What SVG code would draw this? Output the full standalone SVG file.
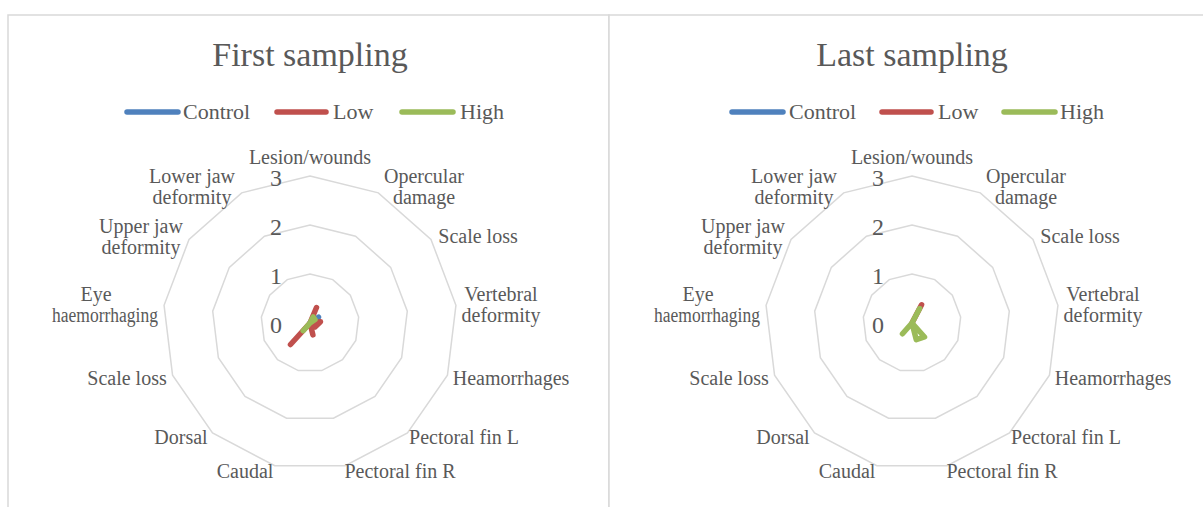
<svg xmlns="http://www.w3.org/2000/svg" xmlns:xlink="http://www.w3.org/1999/xlink" width="1203" height="507" viewBox="0 0 1203 507">
<style>
.frame{fill:#FFFFFF;stroke:#D9D9D9;stroke-width:1.5}
.ring{fill:none;stroke:#D9D9D9;stroke-width:1.5}
.title{font-family:"Liberation Serif",serif;font-size:34px;fill:#595959;text-anchor:middle}
.leg{font-family:"Liberation Serif",serif;font-size:22px;fill:#595959}
.ax{font-family:"Liberation Serif",serif;font-size:20px;fill:#595959;text-anchor:middle}
.tick{font-family:"Liberation Serif",serif;font-size:24px;fill:#595959;text-anchor:middle}
.s{fill:none;stroke-width:5.5;stroke-linecap:round;stroke-linejoin:round}
.blue{stroke:#4F81BD}
.red{stroke:#C0504D}
.green{stroke:#9BBB59}
</style>
<defs>
<g id="grid">
<polygon class="ring" points="0,-49 22.77,-43.39 40.33,-27.83 48.64,-5.91 45.82,17.38 32.49,36.68 11.73,47.58 -11.73,47.58 -32.49,36.68 -45.82,17.38 -48.64,-5.91 -40.33,-27.83 -22.77,-43.39"/>
<polygon class="ring" points="0,-98 45.54,-86.78 80.65,-55.67 97.29,-11.81 91.63,34.75 64.99,73.35 23.45,95.15 -23.45,95.15 -64.99,73.35 -91.63,34.75 -97.29,-11.81 -80.65,-55.67 -45.54,-86.78"/>
<polygon class="ring" points="0,-147 68.31,-130.16 120.98,-83.50 145.93,-17.72 137.45,52.13 97.48,110.03 35.18,142.73 -35.18,142.73 -97.48,110.03 -137.45,52.13 -145.93,-17.72 -120.98,-83.50 -68.31,-130.16"/>
</g>
<g id="labels">
<text class="ax" x="0" y="-159">Lesion/wounds</text>
<text class="ax" x="114" y="-140">Opercular</text>
<text class="ax" x="114" y="-119">damage</text>
<text class="ax" x="168" y="-80">Scale loss</text>
<text class="ax" x="191" y="-22">Vertebral</text>
<text class="ax" x="191" y="-1">deformity</text>
<text class="ax" x="201" y="62">Heamorrhages</text>
<text class="ax" x="154" y="121">Pectoral fin L</text>
<text class="ax" x="90" y="155">Pectoral fin R</text>
<text class="ax" x="-65" y="155">Caudal</text>
<text class="ax" x="-129" y="121">Dorsal</text>
<text class="ax" x="-183" y="62">Scale loss</text>
<text class="ax" x="-214" y="-22">Eye</text>
<text class="ax" x="-205" y="-1" textLength="106" lengthAdjust="spacingAndGlyphs">haemorrhaging</text>
<text class="ax" x="-169" y="-90">Upper jaw</text>
<text class="ax" x="-169" y="-69">deformity</text>
<text class="ax" x="-118" y="-140">Lower jaw</text>
<text class="ax" x="-118" y="-119">deformity</text>
<text class="tick" x="-34" y="-137">3</text>
<text class="tick" x="-34" y="-88">2</text>
<text class="tick" x="-34" y="-39">1</text>
<text class="tick" x="-34" y="10">0</text>
</g>
</defs>
<rect class="frame" x="8" y="15" width="601" height="510"/>
<rect class="frame" x="609" y="15" width="610" height="510"/>

<g id="chart-first">
<text class="title" x="310" y="66">First sampling</text>
<g id="legend-first">
<line class="s blue" x1="127" y1="112" x2="178" y2="112"/>
<text class="leg" x="183" y="119">Control</text>
<line class="s red" x1="277" y1="112" x2="326" y2="112"/>
<text class="leg" x="333" y="119">Low</text>
<line class="s green" x1="402" y1="112" x2="453" y2="112"/>
<text class="leg" x="460" y="119">High</text>
</g>
<g id="axes-first" transform="translate(310,323)">
<use xlink:href="#grid"/>
<use xlink:href="#labels"/>
</g>
<g id="series-first" transform="translate(310,323)">
<path class="s blue" d="M0,0 L8.48,-5.85 Z"/>
<path class="s red" d="M0,0 L6.5,-15.5 L0,0 L10.5,-1.3 L5,4 L0,0 L2.9,11.9 L0,0 L-19.5,21.5 Z"/>
<path class="s green" d="M0,0 L3.2,-6 L5,-3.5 L0,0 L-6.8,7.7 Z"/>
</g>
</g>

<g id="chart-last">
<text class="title" x="912" y="66">Last sampling</text>
<g id="legend-last">
<line class="s blue" x1="732" y1="112" x2="783" y2="112"/>
<text class="leg" x="789" y="119">Control</text>
<line class="s red" x1="882" y1="112" x2="931" y2="112"/>
<text class="leg" x="938" y="119">Low</text>
<line class="s green" x1="1004" y1="112" x2="1055" y2="112"/>
<text class="leg" x="1060" y="119">High</text>
</g>
<g id="axes-last" transform="translate(912,323)">
<use xlink:href="#grid"/>
<use xlink:href="#labels"/>
</g>
<g id="series-last" transform="translate(912,323)">
<path class="s red" d="M0,0 L9.57,-18.24 Z"/>
<path class="s green" d="M0,0 L7.6,-14.5 L0,0 L12.5,14 L4.3,16.7 L0,0 L-9.5,10.8 Z"/>
</g>
</g>
</svg>
